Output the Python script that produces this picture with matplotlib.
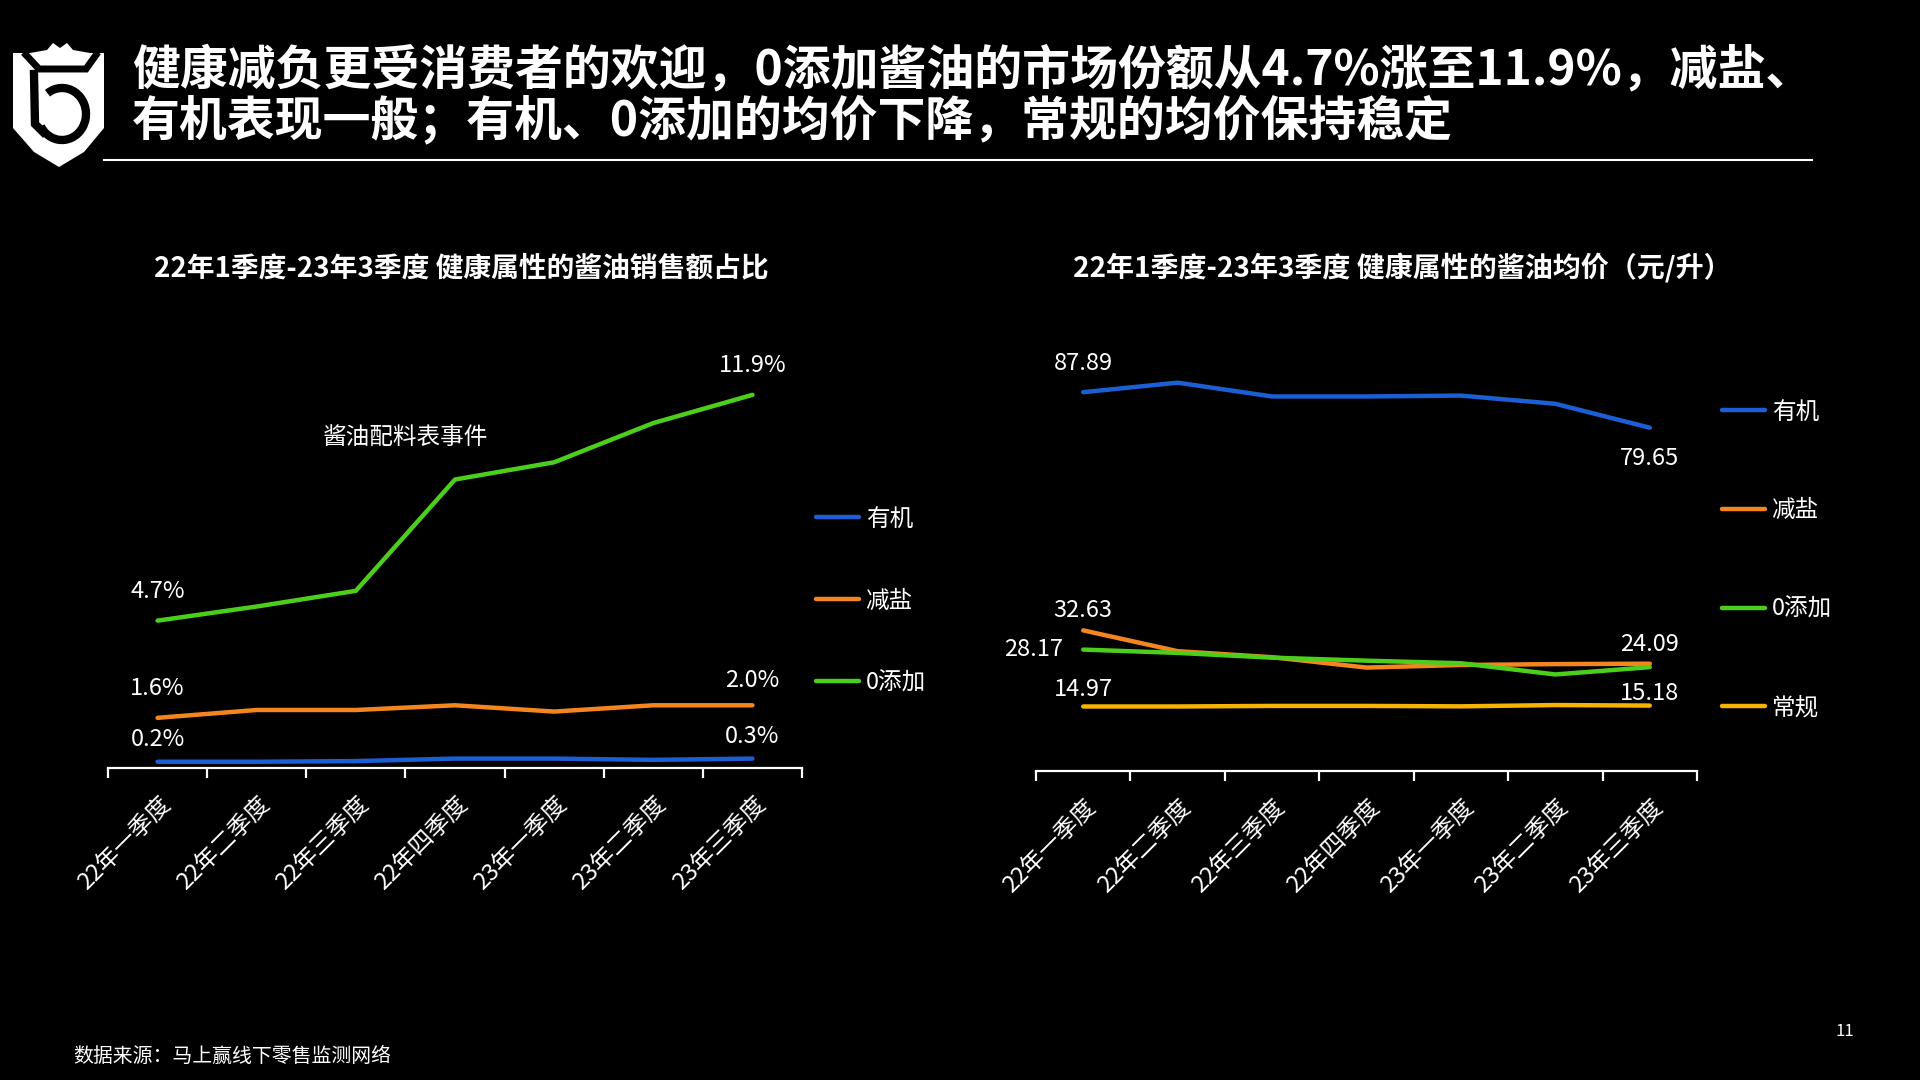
import matplotlib

matplotlib.use("Agg")
import matplotlib.pyplot as plt
from matplotlib.patches import Polygon, Arc
import numpy as np

plt.rcParams["font.family"] = ["Noto Sans CJK SC", "DejaVu Sans"]

quarters = ["22年一季度", "22年二季度", "22年三季度", "22年四季度", "23年一季度", "23年二季度", "23年三季度"]
series_names = ["有机", "减盐", "0添加"]
price_series_names = ["有机", "减盐", "0添加", "常规"]

share_organic = [0.2, 0.2, 0.22, 0.3, 0.3, 0.26, 0.3]
share_low_salt = [1.6, 1.85, 1.85, 2.0, 1.8, 2.0, 2.0]
share_zero_add = [4.7, 5.15, 5.65, 9.2, 9.75, 11.0, 11.9]

price_organic = [87.89, 90.1, 86.9, 86.9, 87.1, 85.2, 79.65]
price_low_salt = [32.63, 27.8, 26.4, 24.0, 24.6, 24.8, 24.9]
price_zero_add = [28.17, 27.4, 26.3, 25.6, 25.0, 22.4, 24.09]
price_regular = [14.97, 14.97, 15.1, 15.1, 15.0, 15.3, 15.18]

BLUE = "#1c5fd4"
ORANGE = "#f5861f"
GREEN = "#4ccf1c"
YELLOW = "#f6b400"
BG = "black"
FG = "white"

title_lines = [
    "健康减负更受消费者的欢迎，0添加酱油的市场份额从4.7%涨至11.9%，减盐、",
    "有机表现一般；有机、0添加的均价下降，常规的均价保持稳定",
]
left_title = "22年1季度-23年3季度 健康属性的酱油销售额占比"
right_title = "22年1季度-23年3季度 健康属性的酱油均价（元/升）"
event_note = "酱油配料表事件"
source_note = "数据来源：马上赢线下零售监测网络"
page_no = "11"

W, H = 1920, 1080


def fx(px):
    return px / W


def fy(py):
    return 1 - py / H


def style_axes(ax):
    ax.set_facecolor(BG)
    for side in ["left", "right", "top"]:
        ax.spines[side].set_visible(False)
    ax.spines["bottom"].set_color(FG)
    ax.spines["bottom"].set_linewidth(1.6)
    n = len(quarters)
    ax.set_xlim(-0.5, n - 0.5)
    ax.set_xticks(np.arange(-0.5, n, 1.0))
    ax.set_xticklabels([])
    ax.tick_params(axis="x", colors=FG, length=7, width=1.6, direction="out")
    ax.set_yticks([])
    for i, q in enumerate(quarters):
        ax.annotate(q, xy=(i, 0), xycoords=("data", "axes fraction"),
                    xytext=(1, -18), textcoords="offset points",
                    rotation=45, ha="right", va="top", rotation_mode="anchor",
                    color=FG, fontsize=17)


def label(ax, x, y, text, dx=0, dy=20):
    ax.annotate(text, xy=(x, y), xytext=(dx, dy), textcoords="offset points",
                ha="center", va="center", color=FG, fontsize=17)


fig = plt.figure(figsize=(19.2, 10.8), dpi=100, facecolor=BG)

# header: logo, title and rule
deco = fig.add_axes([0, 0, 1, 1], zorder=0)
deco.set_xlim(0, W)
deco.set_ylim(H, 0)
deco.axis("off")
shield = [(13, 53), (30, 53), (47, 50), (53, 43), (60, 48), (67, 43), (73, 50), (90, 53),
          (104, 53), (104, 128), (84, 152), (59, 167), (34, 152), (13, 128)]
deco.add_patch(Polygon(shield, closed=True, facecolor=FG, edgecolor="none"))
deco.plot([26, 39, 86, 96], [55, 69, 69, 55], color=BG, lw=5, solid_joinstyle="miter")
deco.plot([34, 35, 43], [74, 124, 132], color=BG, lw=6, solid_joinstyle="miter")
deco.add_patch(Arc((62, 114), 48, 52, theta1=-125, theta2=150, color=BG, lw=6))
deco.plot([104, 1812], [160, 160], color=FG, lw=1.5)

fig.text(fx(132), fy(70), title_lines[0], color=FG, fontsize=34.5, fontweight="bold", va="center", ha="left")
fig.text(fx(132), fy(121), title_lines[1], color=FG, fontsize=34.5, fontweight="bold", va="center", ha="left")

# left chart: sales share
ax1 = fig.add_axes([fx(108), fy(768), fx(802) - fx(108), fy(329) - fy(768)])
style_axes(ax1)
x = np.arange(len(quarters))
l1, = ax1.plot(x, share_organic, color=BLUE, lw=3.2, solid_capstyle="round")
l2, = ax1.plot(x, share_low_salt, color=ORANGE, lw=3.2, solid_capstyle="round")
l3, = ax1.plot(x, share_zero_add, color=GREEN, lw=3.2, solid_capstyle="round")
ax1.set_ylim(0, 14)
label(ax1, 0, share_zero_add[0], f"{share_zero_add[0]:.1f}%", dy=21)
label(ax1, 6, share_zero_add[-1], f"{share_zero_add[-1]:.1f}%", dy=21)
label(ax1, 0, share_low_salt[0], f"{share_low_salt[0]:.1f}%", dy=21)
label(ax1, 6, share_low_salt[-1], f"{share_low_salt[-1]:.1f}%", dy=18)
label(ax1, 0, share_organic[0], f"{share_organic[0]:.1f}%", dy=16)
label(ax1, 6, share_organic[-1], f"{share_organic[-1]:.1f}%", dy=16)
ax1.text(2.5, 10.5, event_note, color=FG, fontsize=17, ha="center", va="center")
fig.text(fx(461), fy(268), left_title, color=FG, fontsize=20, fontweight="bold", ha="center", va="center")
fig.legend([l1, l2, l3], series_names, loc="center left", bbox_to_anchor=(fx(816), fy(601)),
           frameon=False, fontsize=17, labelcolor=FG, handlelength=1.8, handletextpad=0.3,
           labelspacing=2.5, borderpad=0, borderaxespad=0)

# right chart: average price
ax2 = fig.add_axes([fx(1036), fy(771), fx(1697) - fx(1036), fy(340) - fy(771)])
style_axes(ax2)
r1, = ax2.plot(x, price_organic, color=BLUE, lw=3.2, solid_capstyle="round")
r2, = ax2.plot(x, price_low_salt, color=ORANGE, lw=3.2, solid_capstyle="round")
r3, = ax2.plot(x, price_zero_add, color=GREEN, lw=3.2, solid_capstyle="round")
r4, = ax2.plot(x, price_regular, color=YELLOW, lw=3.2, solid_capstyle="round")
ax2.set_ylim(0, 100)
label(ax2, 0, price_organic[0], f"{price_organic[0]:.2f}", dy=21)
label(ax2, 6, price_organic[-1], f"{price_organic[-1]:.2f}", dy=-22)
label(ax2, 0, price_low_salt[0], f"{price_low_salt[0]:.2f}", dy=14)
label(ax2, 0, price_zero_add[0], f"{price_zero_add[0]:.2f}", dx=-36, dy=0)
label(ax2, 6, price_zero_add[-1], f"{price_zero_add[-1]:.2f}", dy=16)
label(ax2, 0, price_regular[0], f"{price_regular[0]:.2f}", dy=12)
label(ax2, 6, price_regular[-1], f"{price_regular[-1]:.2f}", dy=9)
fig.text(fx(1402), fy(268), right_title, color=FG, fontsize=20.2, fontweight="bold", ha="center", va="center")
fig.legend([r1, r2, r3, r4], price_series_names, loc="center left", bbox_to_anchor=(fx(1722), fy(560)),
           frameon=False, fontsize=17, labelcolor=FG, handlelength=1.8, handletextpad=0.3,
           labelspacing=3.2, borderpad=0, borderaxespad=0)

fig.text(fx(73), fy(1056), source_note, color=FG, fontsize=14.3, ha="left", va="center")
fig.text(fx(1845), fy(1032), page_no, color=FG, fontsize=12, ha="center", va="center")

fig.savefig("out.png", dpi=100, facecolor=BG)
